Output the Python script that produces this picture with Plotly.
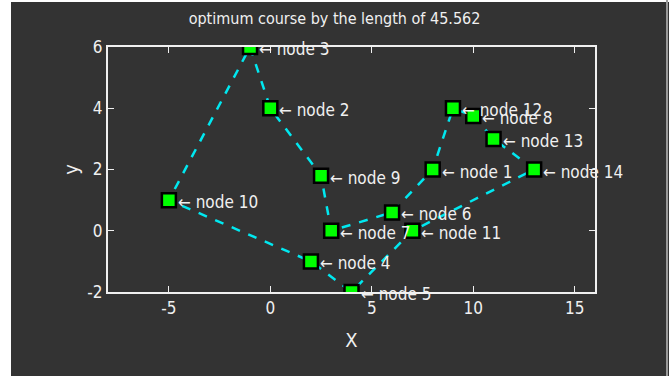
import plotly.graph_objects as go

# node coordinates (node number -> x, y)
node_ids = [1, 2, 3, 4, 5, 6, 7, 8, 9, 10, 11, 12, 13, 14]
node_x = [8, 0, -1, 2, 4, 6, 3, 10, 2.5, -5, 7, 9, 11, 13]
node_y = [2, 4, 6, -1, -2, 0.6, 0, 3.75, 1.8, 1, 0, 4, 3, 2]

# best tour found
route = [3, 2, 9, 7, 6, 1, 12, 8, 13, 14, 11, 5, 4, 10, 3]
tour_length = 45.562

x_ticks = [-5, 0, 5, 10, 15]
x_labels = ['-5', '0', '5', '10', '15']
y_ticks = [-2, 0, 2, 4, 6]
y_labels = ['-2', '0', '2', '4', '6']

BG = '#333333'
FG = '#f0f0f0'
FONT = 'Liberation Sans Narrow, DejaVu Sans Condensed, sans-serif'

route_x = [node_x[node_ids.index(n)] for n in route]
route_y = [node_y[node_ids.index(n)] for n in route]

fig = go.Figure()
fig.add_trace(go.Scatter(x=route_x, y=route_y, mode='lines',
                         line=dict(color='#00e8f0', width=2.5, dash='dash'),
                         hoverinfo='skip'))
fig.add_trace(go.Scatter(x=node_x, y=node_y, mode='markers',
                         marker=dict(symbol='square', size=14, color='#00ff00',
                                     line=dict(color='black', width=2.5))))

for n, x, y in zip(node_ids, node_x, node_y):
    fig.add_annotation(x=x, y=y, text='\u2190 node %d' % n, showarrow=False,
                       xanchor='left', yanchor='middle', xshift=7, yshift=-2,
                       font=dict(family=FONT, size=17, color=FG))

# white strip on the left/top edge and light line on the right edge of the window
fig.add_shape(type='rect', xref='paper', yref='paper',
              x0=-108 / 487, x1=-97 / 487, y0=-1, y1=2,
              fillcolor='white', line_width=0, layer='above')
fig.add_shape(type='rect', xref='paper', yref='paper',
              x0=-108 / 487, x1=574 / 487, y0=(292 - 2) / 245, y1=2,
              fillcolor='white', line_width=0, layer='above')
fig.add_shape(type='line', xref='paper', yref='paper',
              x0=(667 - 108) / 487, x1=(667 - 108) / 487, y0=-1, y1=2,
              line=dict(color='#9a9a9a', width=2))

fig.update_layout(
    width=669, height=376,
    margin=dict(l=108, r=74, t=47, b=84),
    paper_bgcolor=BG, plot_bgcolor=BG,
    showlegend=False,
    font=dict(family=FONT, size=17, color=FG),
    title=dict(text='optimum course by the length of %.3f' % tour_length,
               x=0.5, xanchor='center', y=1 - 18 / 376, yanchor='middle',
               font=dict(family=FONT, size=16, color=FG)),
    xaxis=dict(range=[-8, 16], tickvals=x_ticks, ticktext=x_labels,
               showgrid=False, zeroline=False,
               showline=True, linecolor=FG, linewidth=2, mirror='ticks',
               ticks='inside', ticklen=6, tickcolor=FG,
               title=dict(text='X', standoff=16), tickfont=dict(size=17)),
    yaxis=dict(range=[-2, 6], tickvals=y_ticks, ticktext=y_labels,
               showgrid=False, zeroline=False,
               showline=True, linecolor=FG, linewidth=2, mirror='ticks',
               ticks='inside', ticklen=6, tickcolor=FG,
               title=dict(text='y', standoff=3), tickfont=dict(size=17)),
)

fig.write_html("out.html", config={'displayModeBar': False},
               post_script="document.body.style.margin='0';")
